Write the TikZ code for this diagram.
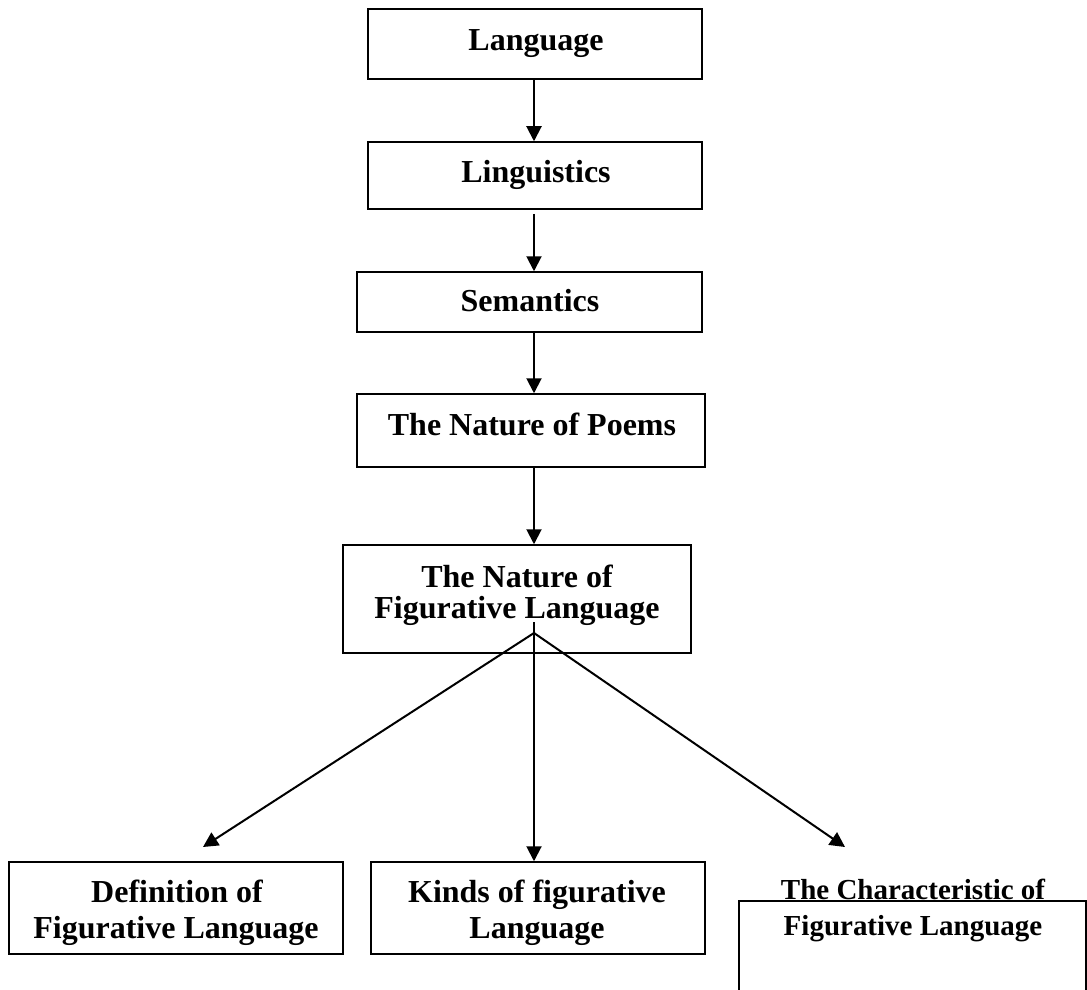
\documentclass[tikz,border=0pt]{standalone}
\usepackage{fontspec}
\setmainfont{Liberation Serif}
\usetikzlibrary{arrows.meta,fit}
\begin{document}
\begin{tikzpicture}[x=0.5pt,y=-0.5pt,
  box/.style={draw,line width=0.75pt,inner sep=0pt,rectangle},
  lbl/.style={anchor=base,inner sep=0pt,font=\fontsize{16}{18}\selectfont\bfseries},
  lbls/.style={anchor=base,inner sep=0pt,font=\fontsize{14.5}{16}\selectfont\bfseries},
  arr/.style={line width=1pt,-{Triangle[length=7.5pt,width=7.5pt]}}]
\clip (0,0) rectangle (1087,990);
% boxes
\node[box,fit={(368,9) (702,79)}] (lang) {};
\node[box,fit={(368,142) (702,209)}] (ling) {};
\node[box,fit={(357,272) (702,332)}] (sem) {};
\node[box,fit={(357,394) (705,467)}] (poem) {};
\node[box,fit={(343,545) (691,653)}] (fig) {};
\node[box,fit={(9,862) (343,954)}] (def) {};
\node[box,fit={(371,862) (705,954)}] (kind) {};
\node[box,fit={(739,901) (1086,1010)}] (char) {};
% texts
\node[lbl] (tLang) at (536,51) {Language};
\node[lbl] (tLing) at (536,183) {Linguistics};
\node[lbl] (tSem) at (530,311) {Semantics};
\node[lbl] (tPoem) at (532,435) {The Nature of Poems};
\node[lbl] (tFigA) at (517,587) {The Nature of};
\node[lbl] (tFigB) at (517,618) {Figurative Language};
\node[lbl] (tDefA) at (177,902) {Definition of};
\node[lbl] (tDefB) at (176,938) {Figurative Language};
\node[lbl] (tKinA) at (537,902) {Kinds of figurative};
\node[lbl] (tKinB) at (537,938) {Language};
\node[lbls] (tChaA) at (913,899) {The Characteristic of};
\node[lbls] (tChaB) at (913,935) {Figurative Language};
% connectors
\coordinate (ax) at (534,0);
\coordinate (hub) at (534,633);
\coordinate (tdef) at (203,847);
\coordinate (tchar) at (845,847);
\draw[arr] (ax |- lang.south) -- (ax |- ling.north);
\draw[arr,shorten <=2pt] (ax |- ling.south) -- (ax |- sem.north);
\draw[arr] (ax |- sem.south) -- (ax |- poem.north);
\draw[arr] (ax |- poem.south) -- (ax |- fig.north);
\draw[arr] (hub) -- (tdef);
\draw[arr] (hub) -- (tchar);
\draw[arr] (534,622) -- (ax |- kind.north);
\end{tikzpicture}
\end{document}
